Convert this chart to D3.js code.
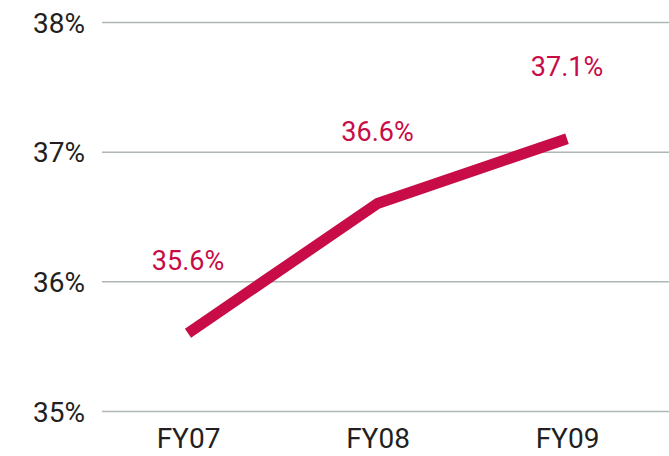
<!DOCTYPE html>
<html lang="en">
<head>
<meta charset="UTF-8" />
<script src="https://d3js.org/d3.v7.min.js"></script>
<style>
  body { margin: 0; background: #fff; }
  text { font-family: Roboto, "Liberation Sans", sans-serif; }
</style>
</head>
<body>
<svg width="669" height="456"></svg>
<script>
// chart data
var years = ["FY07", "FY08", "FY09"];
var margin = [35.6, 36.6, 37.1];
var ticks = [35, 36, 37, 38];

var svg = d3.select("svg");

var x = d3.scalePoint()
    .domain(years)
    .range([188, 567]);

var y = d3.scaleLinear()
    .domain([35, 38])
    .range([411, 22]);

// gridlines + y labels
var yAxis = d3.axisLeft(y)
    .tickValues(ticks)
    .tickSize(-567)
    .tickPadding(17)
    .tickFormat(function(d){ return d + "%"; });

var gy = svg.append("g")
    .attr("transform", "translate(102,0)")
    .call(yAxis);
gy.select(".domain").remove();
gy.selectAll(".tick line")
    .attr("stroke", "#aeb7b3")
    .attr("stroke-width", 1.5);
gy.selectAll(".tick text")
    .attr("fill", "#231f20")
    .style("font-size", "28px")
    .attr("dy", "0.36em");

// x labels
var xAxis = d3.axisBottom(x).tickSize(0).tickPadding(0);
var gx = svg.append("g")
    .attr("transform", "translate(0,428)")
    .call(xAxis);
gx.select(".domain").remove();
gx.selectAll(".tick text")
    .attr("fill", "#231f20")
    .attr("dy", "0.71em")
    .style("font-size", "28px");

// the line
var line = d3.line()
    .x(function(d, i){ return x(years[i]); })
    .y(function(d){ return y(d); });

svg.append("path")
    .datum(margin)
    .attr("d", line)
    .attr("fill", "none")
    .attr("stroke", "#c70c47")
    .attr("stroke-width", 11)
    .attr("stroke-linecap", "butt")
    .attr("stroke-linejoin", "round");

// value labels
svg.selectAll(".val")
    .data(margin)
    .enter()
    .append("text")
    .attr("class", "val")
    .attr("x", function(d, i){ return x(years[i]); })
    .attr("y", function(d){ return y(d) - 63; })
    .attr("text-anchor", "middle")
    .attr("fill", "#c70c47")
    .style("font-size", "27px")
    .text(function(d){ return d.toFixed(1) + "%"; });
</script>
</body>
</html>
